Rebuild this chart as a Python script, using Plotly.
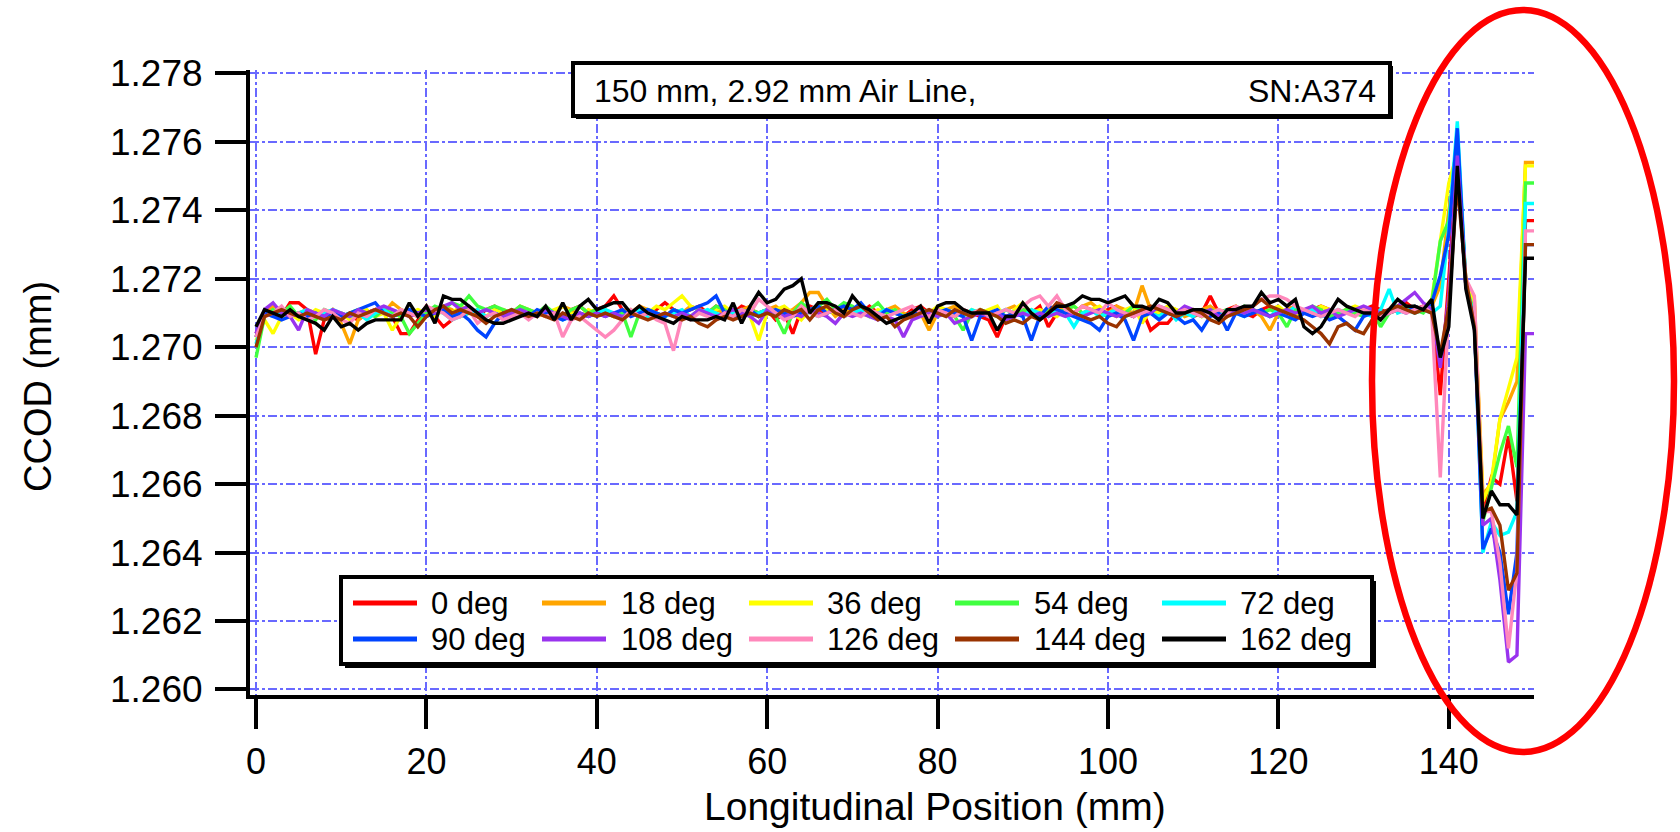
import plotly.graph_objects as go

# ---------------- data ----------------
position_mm = list(range(0, 151))

angle_labels = ["0 deg", "18 deg", "36 deg", "54 deg", "72 deg",
                "90 deg", "108 deg", "126 deg", "144 deg", "162 deg"]
angle_colors = ["#ff0000", "#ffa500", "#ffff00", "#40ff40", "#00ffff",
                "#0044ff", "#9933ee", "#ff88bb", "#993300", "#000000"]

ccod_0 = [
    1.2704, 1.2709, 1.2710, 1.2709, 1.2713, 1.2713, 1.2711, 1.2698, 1.2708, 1.2709,
    1.2710, 1.2709, 1.2708, 1.2710, 1.2711, 1.2710, 1.2709, 1.2704, 1.2704, 1.2708,
    1.2712, 1.2709, 1.2706, 1.2708, 1.2710, 1.2711, 1.2709, 1.2711, 1.2712, 1.2710,
    1.2709, 1.2711, 1.2710, 1.2709, 1.2711, 1.2710, 1.2709, 1.2711, 1.2712, 1.2710,
    1.2711, 1.2712, 1.2715, 1.2711, 1.2710, 1.2712, 1.2710, 1.2711, 1.2713, 1.2711,
    1.2710, 1.2711, 1.2712, 1.2710, 1.2712, 1.2711, 1.2710, 1.2712, 1.2711, 1.2710,
    1.2711, 1.2708, 1.2710, 1.2704, 1.2711, 1.2712, 1.2711, 1.2710, 1.2711, 1.2712,
    1.2711, 1.2710, 1.2712, 1.2710, 1.2711, 1.2710, 1.2709, 1.2711, 1.2712, 1.2710,
    1.2711, 1.2710, 1.2709, 1.2711, 1.2710, 1.2709, 1.2708, 1.2703, 1.2709, 1.2710,
    1.2711, 1.2710, 1.2712, 1.2706, 1.2710, 1.2711, 1.2710, 1.2712, 1.2711, 1.2710,
    1.2711, 1.2712, 1.2710, 1.2709, 1.2711, 1.2705, 1.2707, 1.2707, 1.2710, 1.2711,
    1.2709, 1.2710, 1.2715, 1.2710, 1.2711, 1.2712, 1.2710, 1.2709, 1.2711, 1.2712,
    1.2710, 1.2711, 1.2712, 1.2710, 1.2711, 1.2712, 1.2711, 1.2710, 1.2711, 1.2710,
    1.2711, 1.2712, 1.2711, 1.2710, 1.2712, 1.2713, 1.2711, 1.2712, 1.2711, 1.2686,
    1.2720, 1.2755, 1.2718, 1.2708, 1.2652, 1.2662, 1.2660, 1.2674, 1.2655, 1.2737,
    1.2737]

ccod_18 = [
    1.2703, 1.2710, 1.2712, 1.2711, 1.2709, 1.2710, 1.2711, 1.2710, 1.2709, 1.2711,
    1.2707, 1.2701, 1.2708, 1.2710, 1.2711, 1.2710, 1.2713, 1.2711, 1.2710, 1.2709,
    1.2711, 1.2710, 1.2712, 1.2711, 1.2709, 1.2710, 1.2711, 1.2709, 1.2710, 1.2711,
    1.2710, 1.2712, 1.2711, 1.2710, 1.2709, 1.2710, 1.2712, 1.2711, 1.2709, 1.2710,
    1.2711, 1.2710, 1.2709, 1.2711, 1.2710, 1.2712, 1.2711, 1.2710, 1.2709, 1.2711,
    1.2710, 1.2712, 1.2711, 1.2710, 1.2711, 1.2710, 1.2709, 1.2711, 1.2712, 1.2709,
    1.2711, 1.2712, 1.2710, 1.2711, 1.2713, 1.2716, 1.2716, 1.2712, 1.2709, 1.2711,
    1.2710, 1.2711, 1.2709, 1.2710, 1.2711, 1.2712, 1.2710, 1.2709, 1.2710, 1.2705,
    1.2710, 1.2711, 1.2712, 1.2710, 1.2709, 1.2711, 1.2710, 1.2709, 1.2711, 1.2712,
    1.2710, 1.2711, 1.2709, 1.2710, 1.2712, 1.2711, 1.2710, 1.2712, 1.2713, 1.2711,
    1.2710, 1.2712, 1.2711, 1.2710, 1.2718, 1.2711, 1.2710, 1.2712, 1.2711, 1.2709,
    1.2710, 1.2711, 1.2712, 1.2710, 1.2709, 1.2711, 1.2710, 1.2711, 1.2709, 1.2705,
    1.2710, 1.2711, 1.2712, 1.2710, 1.2711, 1.2710, 1.2709, 1.2711, 1.2710, 1.2711,
    1.2710, 1.2711, 1.2709, 1.2710, 1.2711, 1.2712, 1.2710, 1.2711, 1.2712, 1.2718,
    1.2740, 1.2755, 1.2720, 1.2714, 1.2657, 1.2660, 1.2679, 1.2684, 1.2690, 1.2754,
    1.2754]

ccod_36 = [
    1.2702, 1.2708, 1.2704, 1.2709, 1.2710, 1.2708, 1.2709, 1.2711, 1.2710, 1.2709,
    1.2710, 1.2708, 1.2710, 1.2711, 1.2709, 1.2710, 1.2705, 1.2709, 1.2710, 1.2711,
    1.2710, 1.2709, 1.2711, 1.2710, 1.2712, 1.2711, 1.2710, 1.2709, 1.2711, 1.2710,
    1.2709, 1.2710, 1.2711, 1.2709, 1.2710, 1.2711, 1.2712, 1.2710, 1.2709, 1.2711,
    1.2710, 1.2711, 1.2709, 1.2710, 1.2711, 1.2709, 1.2710, 1.2712, 1.2711, 1.2713,
    1.2715, 1.2712, 1.2711, 1.2710, 1.2711, 1.2712, 1.2710, 1.2711, 1.2709, 1.2702,
    1.2710, 1.2711, 1.2712, 1.2710, 1.2708, 1.2711, 1.2712, 1.2711, 1.2710, 1.2709,
    1.2711, 1.2710, 1.2709, 1.2711, 1.2710, 1.2711, 1.2709, 1.2710, 1.2711, 1.2710,
    1.2712, 1.2711, 1.2710, 1.2709, 1.2711, 1.2710, 1.2711, 1.2712, 1.2708, 1.2711,
    1.2713, 1.2710, 1.2711, 1.2710, 1.2709, 1.2711, 1.2712, 1.2710, 1.2711, 1.2712,
    1.2710, 1.2709, 1.2711, 1.2712, 1.2707, 1.2711, 1.2710, 1.2712, 1.2711, 1.2710,
    1.2711, 1.2709, 1.2710, 1.2711, 1.2710, 1.2712, 1.2710, 1.2711, 1.2710, 1.2711,
    1.2712, 1.2710, 1.2709, 1.2711, 1.2710, 1.2712, 1.2711, 1.2710, 1.2711, 1.2712,
    1.2711, 1.2710, 1.2709, 1.2711, 1.2712, 1.2711, 1.2712, 1.2711, 1.2714, 1.2731,
    1.2748, 1.2757, 1.2719, 1.2712, 1.2655, 1.2661, 1.2679, 1.2688, 1.2697, 1.2753,
    1.2753]

ccod_54 = [
    1.2697, 1.2709, 1.2711, 1.2710, 1.2712, 1.2709, 1.2710, 1.2708, 1.2711, 1.2710,
    1.2709, 1.2710, 1.2711, 1.2710, 1.2709, 1.2711, 1.2710, 1.2709, 1.2704, 1.2707,
    1.2710, 1.2712, 1.2711, 1.2713, 1.2712, 1.2715, 1.2712, 1.2711, 1.2712, 1.2711,
    1.2710, 1.2712, 1.2711, 1.2710, 1.2712, 1.2710, 1.2709, 1.2711, 1.2712, 1.2710,
    1.2711, 1.2710, 1.2709, 1.2710, 1.2703, 1.2710, 1.2711, 1.2710, 1.2709, 1.2711,
    1.2710, 1.2709, 1.2711, 1.2710, 1.2712, 1.2711, 1.2709, 1.2710, 1.2711, 1.2710,
    1.2711, 1.2709, 1.2704, 1.2710, 1.2713, 1.2711, 1.2712, 1.2714, 1.2711, 1.2713,
    1.2712, 1.2710, 1.2711, 1.2713, 1.2710, 1.2711, 1.2709, 1.2710, 1.2711, 1.2710,
    1.2711, 1.2710, 1.2709, 1.2705, 1.2710, 1.2711, 1.2710, 1.2709, 1.2711, 1.2710,
    1.2711, 1.2710, 1.2709, 1.2711, 1.2710, 1.2711, 1.2712, 1.2710, 1.2711, 1.2710,
    1.2709, 1.2711, 1.2710, 1.2712, 1.2711, 1.2710, 1.2709, 1.2711, 1.2710, 1.2711,
    1.2710, 1.2709, 1.2711, 1.2710, 1.2711, 1.2710, 1.2712, 1.2711, 1.2710, 1.2711,
    1.2710, 1.2706, 1.2711, 1.2710, 1.2712, 1.2711, 1.2709, 1.2710, 1.2711, 1.2710,
    1.2709, 1.2711, 1.2706, 1.2710, 1.2711, 1.2712, 1.2711, 1.2710, 1.2713, 1.2731,
    1.2737, 1.2762, 1.2718, 1.2710, 1.2649, 1.2659, 1.2669, 1.2677, 1.2665, 1.2748,
    1.2748]

ccod_72 = [
    1.2701, 1.2710, 1.2709, 1.2710, 1.2709, 1.2710, 1.2711, 1.2709, 1.2710, 1.2711,
    1.2710, 1.2709, 1.2710, 1.2708, 1.2710, 1.2711, 1.2709, 1.2710, 1.2711, 1.2710,
    1.2709, 1.2711, 1.2710, 1.2708, 1.2709, 1.2710, 1.2711, 1.2709, 1.2710, 1.2709,
    1.2711, 1.2710, 1.2709, 1.2710, 1.2711, 1.2710, 1.2708, 1.2709, 1.2710, 1.2709,
    1.2710, 1.2711, 1.2710, 1.2709, 1.2710, 1.2711, 1.2709, 1.2710, 1.2709, 1.2710,
    1.2711, 1.2709, 1.2710, 1.2711, 1.2710, 1.2709, 1.2710, 1.2711, 1.2709, 1.2710,
    1.2711, 1.2710, 1.2709, 1.2710, 1.2711, 1.2710, 1.2709, 1.2710, 1.2711, 1.2709,
    1.2710, 1.2711, 1.2709, 1.2710, 1.2711, 1.2710, 1.2709, 1.2710, 1.2711, 1.2710,
    1.2709, 1.2711, 1.2710, 1.2709, 1.2711, 1.2710, 1.2709, 1.2710, 1.2711, 1.2710,
    1.2709, 1.2711, 1.2710, 1.2709, 1.2711, 1.2710, 1.2706, 1.2710, 1.2711, 1.2709,
    1.2710, 1.2711, 1.2709, 1.2710, 1.2711, 1.2710, 1.2709, 1.2711, 1.2708, 1.2710,
    1.2709, 1.2711, 1.2710, 1.2709, 1.2711, 1.2710, 1.2709, 1.2711, 1.2710, 1.2709,
    1.2711, 1.2710, 1.2712, 1.2710, 1.2711, 1.2709, 1.2710, 1.2711, 1.2710, 1.2711,
    1.2710, 1.2709, 1.2711, 1.2717, 1.2710, 1.2711, 1.2710, 1.2711, 1.2710, 1.2712,
    1.2735, 1.2766, 1.2719, 1.2708, 1.2640, 1.2649, 1.2645, 1.2646, 1.2652, 1.2742,
    1.2742]

ccod_90 = [
    1.2703, 1.2710, 1.2709, 1.2708, 1.2709, 1.2710, 1.2709, 1.2710, 1.2709, 1.2710,
    1.2709, 1.2710, 1.2711, 1.2712, 1.2713, 1.2710, 1.2709, 1.2710, 1.2711, 1.2710,
    1.2709, 1.2710, 1.2711, 1.2709, 1.2710, 1.2708, 1.2705, 1.2703, 1.2707, 1.2710,
    1.2709, 1.2710, 1.2709, 1.2711, 1.2710, 1.2709, 1.2708, 1.2709, 1.2710, 1.2709,
    1.2710, 1.2709, 1.2710, 1.2711, 1.2709, 1.2710, 1.2711, 1.2710, 1.2709, 1.2711,
    1.2710, 1.2711, 1.2712, 1.2713, 1.2715, 1.2710, 1.2709, 1.2710, 1.2711, 1.2709,
    1.2710, 1.2711, 1.2710, 1.2709, 1.2710, 1.2711, 1.2712, 1.2710, 1.2711, 1.2712,
    1.2711, 1.2713, 1.2710, 1.2709, 1.2711, 1.2710, 1.2709, 1.2710, 1.2711, 1.2709,
    1.2710, 1.2711, 1.2710, 1.2709, 1.2702, 1.2709, 1.2710, 1.2711, 1.2709, 1.2710,
    1.2709, 1.2702, 1.2709, 1.2712, 1.2711, 1.2710, 1.2709, 1.2708, 1.2707, 1.2705,
    1.2709, 1.2710, 1.2708, 1.2702, 1.2709, 1.2710, 1.2708, 1.2710, 1.2709, 1.2707,
    1.2708, 1.2705, 1.2709, 1.2710, 1.2705, 1.2710, 1.2709, 1.2710, 1.2711, 1.2709,
    1.2710, 1.2709, 1.2708, 1.2710, 1.2709, 1.2710, 1.2708, 1.2709, 1.2707, 1.2705,
    1.2709, 1.2710, 1.2709, 1.2710, 1.2711, 1.2710, 1.2712, 1.2711, 1.2713, 1.2721,
    1.2733, 1.2764, 1.2718, 1.2707, 1.2641, 1.2647, 1.2640, 1.2622, 1.2640, 1.2730,
    1.2730]

ccod_108 = [
    1.2704, 1.2711, 1.2713, 1.2710, 1.2709, 1.2705, 1.2711, 1.2710, 1.2709, 1.2711,
    1.2710, 1.2709, 1.2711, 1.2710, 1.2711, 1.2712, 1.2711, 1.2710, 1.2709, 1.2710,
    1.2711, 1.2710, 1.2712, 1.2713, 1.2711, 1.2712, 1.2710, 1.2711, 1.2710, 1.2709,
    1.2710, 1.2711, 1.2710, 1.2709, 1.2711, 1.2710, 1.2709, 1.2708, 1.2710, 1.2709,
    1.2710, 1.2709, 1.2710, 1.2709, 1.2710, 1.2709, 1.2710, 1.2709, 1.2710, 1.2709,
    1.2710, 1.2709, 1.2711, 1.2710, 1.2709, 1.2710, 1.2711, 1.2710, 1.2709, 1.2707,
    1.2711, 1.2710, 1.2709, 1.2710, 1.2709, 1.2711, 1.2710, 1.2709, 1.2707, 1.2710,
    1.2709, 1.2710, 1.2709, 1.2708, 1.2709, 1.2708, 1.2703, 1.2708, 1.2709, 1.2710,
    1.2709, 1.2710, 1.2707, 1.2708, 1.2709, 1.2710, 1.2709, 1.2710, 1.2708, 1.2709,
    1.2710, 1.2709, 1.2710, 1.2709, 1.2710, 1.2709, 1.2710, 1.2709, 1.2710, 1.2711,
    1.2710, 1.2709, 1.2710, 1.2709, 1.2711, 1.2710, 1.2712, 1.2711, 1.2710, 1.2712,
    1.2711, 1.2710, 1.2711, 1.2709, 1.2710, 1.2711, 1.2710, 1.2711, 1.2710, 1.2709,
    1.2710, 1.2711, 1.2710, 1.2711, 1.2712, 1.2710, 1.2711, 1.2709, 1.2710, 1.2711,
    1.2712, 1.2711, 1.2710, 1.2711, 1.2712, 1.2714, 1.2716, 1.2713, 1.2711, 1.2694,
    1.2715, 1.2756, 1.2718, 1.2707, 1.2648, 1.2650, 1.2632, 1.2608, 1.2610, 1.2704,
    1.2704]

ccod_126 = [
    1.2703, 1.2709, 1.2710, 1.2712, 1.2709, 1.2710, 1.2708, 1.2709, 1.2711, 1.2710,
    1.2708, 1.2707, 1.2710, 1.2709, 1.2711, 1.2710, 1.2709, 1.2711, 1.2710, 1.2709,
    1.2712, 1.2711, 1.2710, 1.2708, 1.2709, 1.2711, 1.2707, 1.2709, 1.2710, 1.2708,
    1.2709, 1.2710, 1.2708, 1.2710, 1.2709, 1.2710, 1.2703, 1.2708, 1.2709, 1.2707,
    1.2705, 1.2703, 1.2705, 1.2708, 1.2711, 1.2709, 1.2710, 1.2708, 1.2707, 1.2699,
    1.2709, 1.2708, 1.2710, 1.2709, 1.2708, 1.2710, 1.2709, 1.2711, 1.2710, 1.2714,
    1.2712, 1.2710, 1.2708, 1.2709, 1.2712, 1.2710, 1.2709, 1.2710, 1.2711, 1.2709,
    1.2710, 1.2709, 1.2711, 1.2710, 1.2709, 1.2710, 1.2711, 1.2712, 1.2710, 1.2709,
    1.2711, 1.2710, 1.2709, 1.2711, 1.2710, 1.2711, 1.2709, 1.2710, 1.2711, 1.2710,
    1.2712, 1.2714, 1.2715, 1.2712, 1.2715, 1.2711, 1.2710, 1.2712, 1.2711, 1.2710,
    1.2713, 1.2711, 1.2710, 1.2709, 1.2710, 1.2711, 1.2712, 1.2711, 1.2710, 1.2711,
    1.2710, 1.2709, 1.2710, 1.2711, 1.2710, 1.2712, 1.2711, 1.2712, 1.2714, 1.2715,
    1.2715, 1.2714, 1.2712, 1.2711, 1.2710, 1.2709, 1.2710, 1.2711, 1.2710, 1.2709,
    1.2711, 1.2710, 1.2709, 1.2710, 1.2711, 1.2710, 1.2711, 1.2712, 1.2710, 1.2662,
    1.2712, 1.2750, 1.2720, 1.2715, 1.2652, 1.2652, 1.2637, 1.2612, 1.2635, 1.2734,
    1.2734]

ccod_144 = [
    1.2700, 1.2709, 1.2710, 1.2711, 1.2710, 1.2709, 1.2710, 1.2709, 1.2708, 1.2709,
    1.2708, 1.2710, 1.2709, 1.2710, 1.2711, 1.2710, 1.2709, 1.2710, 1.2709, 1.2706,
    1.2709, 1.2711, 1.2712, 1.2710, 1.2711, 1.2710, 1.2709, 1.2707, 1.2709, 1.2710,
    1.2711, 1.2710, 1.2709, 1.2710, 1.2709, 1.2708, 1.2710, 1.2709, 1.2708, 1.2710,
    1.2709, 1.2710, 1.2709, 1.2708, 1.2710, 1.2709, 1.2708, 1.2709, 1.2710, 1.2709,
    1.2708, 1.2709, 1.2707, 1.2706, 1.2708, 1.2709, 1.2708, 1.2709, 1.2710, 1.2709,
    1.2710, 1.2709, 1.2711, 1.2710, 1.2711, 1.2708, 1.2711, 1.2712, 1.2710, 1.2709,
    1.2711, 1.2712, 1.2710, 1.2708, 1.2709, 1.2706, 1.2708, 1.2709, 1.2710, 1.2711,
    1.2710, 1.2709, 1.2711, 1.2710, 1.2709, 1.2711, 1.2710, 1.2709, 1.2707, 1.2708,
    1.2707, 1.2709, 1.2708, 1.2710, 1.2713, 1.2712, 1.2710, 1.2709, 1.2708, 1.2709,
    1.2707, 1.2706, 1.2709, 1.2710, 1.2711, 1.2712, 1.2711, 1.2710, 1.2709, 1.2710,
    1.2711, 1.2710, 1.2708, 1.2707, 1.2709, 1.2710, 1.2711, 1.2712, 1.2714, 1.2712,
    1.2711, 1.2710, 1.2709, 1.2708, 1.2706, 1.2704, 1.2701, 1.2706, 1.2707, 1.2705,
    1.2704, 1.2708, 1.2710, 1.2711, 1.2712, 1.2711, 1.2710, 1.2711, 1.2710, 1.2698,
    1.2712, 1.2748, 1.2720, 1.2706, 1.2652, 1.2653, 1.2648, 1.2629, 1.2634, 1.2730,
    1.2730]

ccod_162 = [
    1.2706, 1.2711, 1.2710, 1.2709, 1.2711, 1.2709, 1.2708, 1.2707, 1.2705, 1.2709,
    1.2706, 1.2707, 1.2705, 1.2707, 1.2708, 1.2708, 1.2708, 1.2708, 1.2713, 1.2709,
    1.2712, 1.2707, 1.2715, 1.2714, 1.2714, 1.2712, 1.2710, 1.2708, 1.2707, 1.2707,
    1.2708, 1.2709, 1.2710, 1.2709, 1.2712, 1.2708, 1.2713, 1.2708, 1.2712, 1.2714,
    1.2711, 1.2712, 1.2713, 1.2713, 1.2710, 1.2712, 1.2710, 1.2709, 1.2708, 1.2707,
    1.2709, 1.2708, 1.2708, 1.2708, 1.2709, 1.2708, 1.2713, 1.2707, 1.2712, 1.2716,
    1.2713, 1.2714, 1.2717, 1.2718, 1.2720, 1.2710, 1.2713, 1.2713, 1.2712, 1.2710,
    1.2715, 1.2712, 1.2711, 1.2709, 1.2707, 1.2708, 1.2709, 1.2710, 1.2712, 1.2707,
    1.2712, 1.2713, 1.2713, 1.2711, 1.2710, 1.2710, 1.2710, 1.2705, 1.2709, 1.2709,
    1.2713, 1.2710, 1.2708, 1.2710, 1.2712, 1.2712, 1.2713, 1.2715, 1.2714, 1.2714,
    1.2713, 1.2714, 1.2715, 1.2712, 1.2712, 1.2711, 1.2714, 1.2713, 1.2710, 1.2710,
    1.2711, 1.2711, 1.2710, 1.2708, 1.2711, 1.2711, 1.2712, 1.2712, 1.2716, 1.2713,
    1.2714, 1.2712, 1.2714, 1.2706, 1.2704, 1.2706, 1.2710, 1.2714, 1.2712, 1.2711,
    1.2710, 1.2710, 1.2708, 1.2711, 1.2714, 1.2712, 1.2712, 1.2711, 1.2714, 1.2697,
    1.2706, 1.2753, 1.2717, 1.2705, 1.2650, 1.2658, 1.2654, 1.2654, 1.2651, 1.2726,
    1.2726]

series_values = [ccod_0, ccod_18, ccod_36, ccod_54, ccod_72,
                 ccod_90, ccod_108, ccod_126, ccod_144, ccod_162]

x_tick_values = [0, 20, 40, 60, 80, 100, 120, 140]
y_tick_values = [1.260, 1.262, 1.264, 1.266, 1.268, 1.270, 1.272, 1.274, 1.276, 1.278]

title_left = "150 mm, 2.92 mm Air Line,"
title_right = "SN:A374"
x_title = "Longitudinal Position (mm)"
y_title = "CCOD (mm)"

# ---------------- layout geometry (pixels) ----------------
W, H = 1680, 832
L, R, T, B = 250, 146, 70, 137
PW, PH = W - L - R, H - T - B


def px(xpix):
    return (xpix - L) / PW


def py(ypix):
    return (H - B - ypix) / PH


FONT = "Liberation Sans, Arial, sans-serif"
GRID = "rgb(105,105,255)"

fig = go.Figure()
for name, col, vals in zip(angle_labels, angle_colors, series_values):
    fig.add_trace(go.Scatter(x=position_mm, y=vals, mode="lines", name=name,
                             line=dict(color=col, width=3.4), showlegend=False))

fig.update_layout(
    width=W, height=H,
    margin=dict(l=L, r=R, t=T, b=B, pad=0),
    paper_bgcolor="white", plot_bgcolor="white",
    font=dict(family=FONT, color="black"),
    showlegend=False,
)

fig.update_xaxes(
    range=[-0.704, 150.0], tickvals=x_tick_values,
    showline=True, linewidth=4, linecolor="black",
    ticks="outside", ticklen=30, tickwidth=4, tickcolor="black",
    tickfont=dict(size=36, family=FONT), ticklabelstandoff=2,
    showgrid=True, gridcolor=GRID, gridwidth=1.5, griddash="dashdot",
    zeroline=False,
)
fig.update_yaxes(
    range=[1.259839, 1.278102], tickvals=y_tick_values, tickformat=".3f",
    showline=True, linewidth=4, linecolor="black",
    ticks="outside", ticklen=31, tickwidth=4, tickcolor="black",
    tickfont=dict(size=37, family=FONT), ticklabelstandoff=5,
    showgrid=True, gridcolor=GRID, gridwidth=1.5, griddash="dashdot",
    zeroline=False,
)

shapes = []
annotations = []


def box(x0, y0, x1, y1, shadow=4):
    shapes.append(dict(type="rect", xref="paper", yref="paper", layer="above",
                       x0=px(x0 + shadow), x1=px(x1 + shadow),
                       y0=py(y0 + shadow), y1=py(y1 + shadow),
                       line=dict(width=0), fillcolor="black"))
    shapes.append(dict(type="rect", xref="paper", yref="paper", layer="above",
                       x0=px(x0), x1=px(x1), y0=py(y0), y1=py(y1),
                       line=dict(width=4, color="black"), fillcolor="white"))


# title box
box(573, 63, 1390, 116, shadow=3)
annotations.append(dict(text=title_left, xref="paper", yref="paper",
                        x=px(592), y=py(91), xanchor="left", yanchor="middle",
                        showarrow=False, font=dict(size=32, family=FONT)))
annotations.append(dict(text=title_right, xref="paper", yref="paper",
                        x=px(1378), y=py(91), xanchor="right", yanchor="middle",
                        showarrow=False, font=dict(size=32, family=FONT)))

# legend box
box(341, 577, 1372, 664, shadow=4)
col_line_x = [353, 542, 749, 955, 1162]
col_text_x = [429, 619, 825, 1032, 1238]
row_y = [603, 639]
for i, (name, col) in enumerate(zip(angle_labels, angle_colors)):
    r, c = divmod(i, 5)
    shapes.append(dict(type="line", xref="paper", yref="paper", layer="above",
                       x0=px(col_line_x[c]), x1=px(col_line_x[c] + 64),
                       y0=py(row_y[r]), y1=py(row_y[r]),
                       line=dict(color=col, width=5)))
    annotations.append(dict(text=name, xref="paper", yref="paper",
                            x=px(col_text_x[c]), y=py(row_y[r]),
                            xanchor="left", yanchor="middle", showarrow=False,
                            font=dict(size=31, family=FONT)))

# axis titles
annotations.append(dict(text=x_title, xref="paper", yref="paper",
                        x=px(935), y=py(806), xanchor="center", yanchor="middle",
                        showarrow=False, font=dict(size=39, family=FONT)))
annotations.append(dict(text=y_title, xref="paper", yref="paper",
                        x=px(38), y=py(387), xanchor="center", yanchor="middle",
                        textangle=-90, showarrow=False,
                        font=dict(size=38, family=FONT)))

# red highlight ellipse
shapes.append(dict(type="circle", xref="paper", yref="paper", layer="above",
                   x0=px(1372), x1=px(1674), y0=py(752), y1=py(10),
                   line=dict(color="red", width=6.5)))

fig.update_layout(shapes=shapes, annotations=annotations)

fig.write_html("out.html", include_plotlyjs=True,
               config={"displayModeBar": False},
               post_script="document.body.style.margin='0px';")
